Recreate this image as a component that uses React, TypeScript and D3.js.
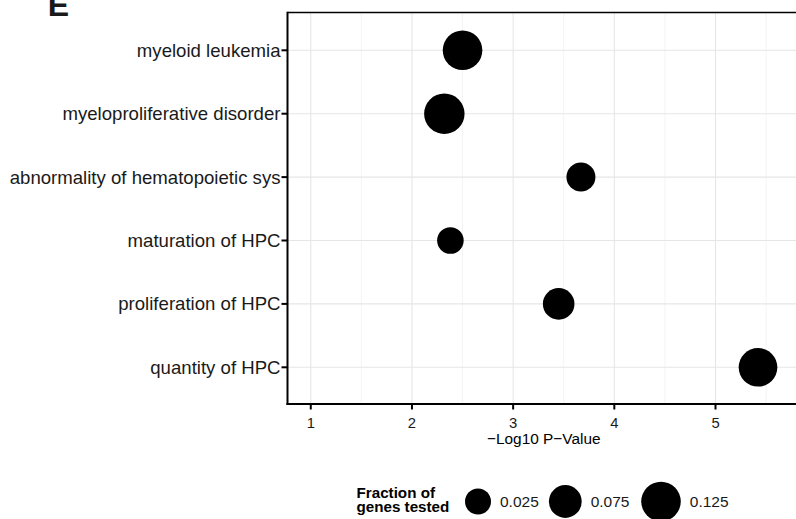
import React from "react";
import * as d3 from "d3";

const categories = [
  "myeloid leukemia",
  "myeloproliferative disorder",
  "abnormality of hematopoietic sys",
  "maturation of HPC",
  "proliferation of HPC",
  "quantity of HPC",
];
const pValues = [2.5, 2.32, 3.67, 2.38, 3.45, 5.42];
const fractions = [0.125, 0.131, 0.047, 0.029, 0.066, 0.118];
const xTicks = [1, 2, 3, 4, 5];
const xMinor = [1.5, 2.5, 3.5, 4.5, 5.5];
const legendBreaks = [0.025, 0.075, 0.125];
const legendTitle = ["Fraction of", "genes tested"];

const W = 796;
const H = 519;
const FONT = "'Liberation Sans', Arial, Helvetica, sans-serif";

export default function App() {
  const left = 287.5;
  const right = 800;
  const top = 12.5;
  const bottom = 404;

  const x = d3.scaleLinear().domain([0.77, 5.835]).range([left, right]);
  const y = d3.scalePoint<string>().domain(categories).range([50.3, 367.3]);
  const r = d3.scaleLinear().domain([0.025, 0.125]).range([13, 19.8]);

  const legendX = [478, 565.3, 661];
  const legendY = 501.5;

  return (
    <svg
      width={W}
      height={H}
      style={{ position: "absolute", left: 0, top: 0, background: "#fff" }}
      fontFamily={FONT}
    >
      <rect x={0} y={0} width={W} height={H} fill="#fff" />
      {xMinor.map((t) => (
        <line key={"mn" + t} x1={x(t)} x2={x(t)} y1={top} y2={bottom} stroke="#f4f4f4" strokeWidth={1} />
      ))}
      {xTicks.map((t) => (
        <line key={"mj" + t} x1={x(t)} x2={x(t)} y1={top} y2={bottom} stroke="#e6e6e6" strokeWidth={1.1} />
      ))}
      {categories.map((c) => (
        <line key={"gy" + c} x1={left} x2={right} y1={y(c)} y2={y(c)} stroke="#e6e6e6" strokeWidth={1.1} />
      ))}
      {categories.map((c, i) => (
        <circle key={"pt" + c} cx={x(pValues[i])} cy={y(c)} r={r(fractions[i])} fill="#000" />
      ))}
      <line x1={left} x2={right} y1={top} y2={top} stroke="#000" strokeWidth={1.6} />
      <line x1={left} x2={left} y1={top - 0.8} y2={bottom + 1} stroke="#000" strokeWidth={2} />
      <line x1={left - 1} x2={right} y1={bottom} y2={bottom} stroke="#000" strokeWidth={2} />
      {categories.map((c) => (
        <g key={"yt" + c}>
          <line x1={left - 6} x2={left} y1={y(c)} y2={y(c)} stroke="#000" strokeWidth={2} />
          <text x={left - 7} y={y(c)} dy="0.35em" textAnchor="end" fontSize={18.6} fill="#1a1a1a">
            {c}
          </text>
        </g>
      ))}
      {xTicks.map((t) => (
        <g key={"xt" + t}>
          <line x1={x(t)} x2={x(t)} y1={bottom} y2={bottom + 5.5} stroke="#000" strokeWidth={2} />
          <text x={x(t)} y={427.5} textAnchor="middle" fontSize={14.8} fill="#1a1a1a">
            {t}
          </text>
        </g>
      ))}
      <text x={(left + right) / 2} y={444} textAnchor="middle" fontSize={15.4} fill="#000">
        −Log10 P−Value
      </text>
      <text x={47.7} y={15.7} fontSize={32} fontWeight="bold" fill="#1a1a1a">
        E
      </text>
      {legendTitle.map((line, i) => (
        <text key={"lt" + i} x={356.5} y={497.5 + i * 14} fontSize={15.2} fontWeight="bold" fill="#000">
          {line}
        </text>
      ))}
      {legendBreaks.map((b, i) => (
        <g key={"lg" + b}>
          <circle cx={legendX[i]} cy={legendY} r={r(b)} fill="#000" />
          <text x={legendX[i] + r(b) + 9} y={legendY} dy="0.35em" fontSize={15.5} fill="#1a1a1a">
            {b.toFixed(3)}
          </text>
        </g>
      ))}
    </svg>
  );
}
